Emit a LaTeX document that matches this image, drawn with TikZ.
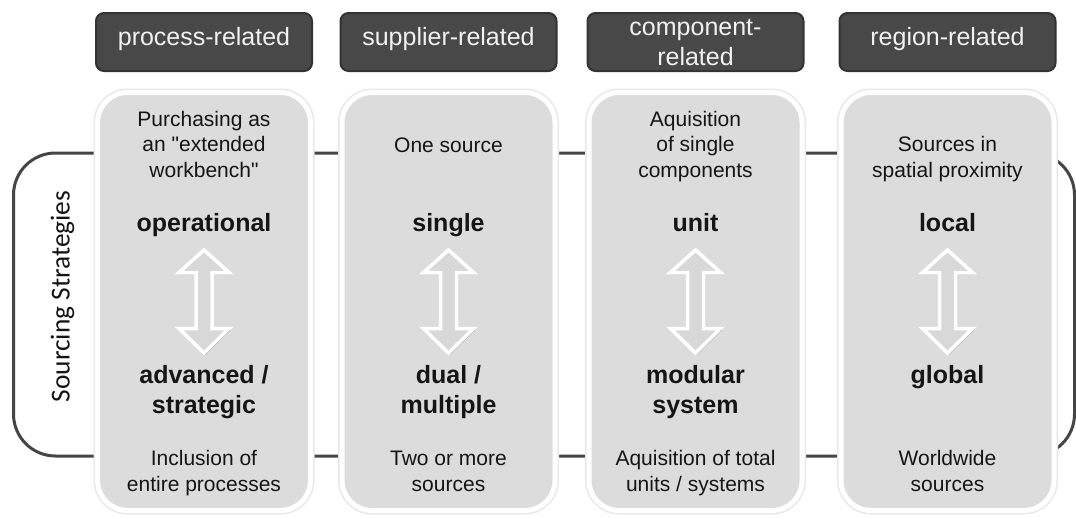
\documentclass[tikz,border=0pt]{standalone}
\usepackage{fontspec}
\setmainfont{Liberation Sans}[Ligatures=TeXOff]
\newfontfamily\sidefont{Carlito}
\usetikzlibrary{shadows}

\definecolor{headfill}{HTML}{484848}
\definecolor{headedge}{HTML}{333333}
\definecolor{headtextcol}{HTML}{F2F2F2}
\definecolor{panelfill}{HTML}{DCDCDC}
\definecolor{frameline}{HTML}{454545}
\definecolor{inktext}{HTML}{151515}
\definecolor{arrowfill}{HTML}{D8D8D8}

\tikzset{
  frame/.style={draw=frameline, line width=3pt, rounded corners=42pt},
  headerbox/.style={draw=headedge, line width=2pt, fill=headfill,
    rounded corners=8pt, minimum width=216pt, minimum height=58pt, inner sep=0pt},
  headtext/.style={anchor=base, text=headtextcol, align=center,
    font=\fontsize{25}{30}\selectfont},
  panel/.style={preaction={draw=black!9, line width=8pt, rounded corners=30pt},
    draw=white, line width=5pt, fill=panelfill, rounded corners=30pt,
    minimum width=213pt, minimum height=418pt, inner sep=0pt},
  body/.style={anchor=base, text=inktext, align=center,
    font=\fontsize{21}{25.5}\selectfont},
  strong/.style={anchor=base, text=inktext, align=center,
    font=\bfseries\fontsize{25}{30}\selectfont},
  arrowbody/.style={draw=white, line width=3.5pt, line join=miter, fill=arrowfill,
    drop shadow={shadow xshift=1.5pt, shadow yshift=-1.5pt, opacity=0.3, fill=black}},
  dblarrow/.pic={
    \path[arrowbody] (0,-51.5) -- (25,-29) -- (8,-29) -- (8,27) -- (25,27)
      -- (0,51.5) -- (-25,27) -- (-8,27) -- (-8,-29) -- (-25,-29) -- cycle;
  },
}

\begin{document}
\begin{tikzpicture}[x=1pt, y=-1pt]
\useasboundingbox (0,0) rectangle (1076,517);

% bracket framing the four strategy columns
\draw[frame] (13.5,153) rectangle (1074.5,456);

% side title
\node[rotate=90, anchor=base, text=inktext, font=\sidefont\fontsize{27.4}{30}\selectfont]
  (side) at (69.5,296.5) {Sourcing Strategies};

% headers, panels and the double arrows
\foreach \i/\x in {1/204,2/448.5,3/695.5,4/947.5} {
  \node[headerbox] (h\i) at (\x,42) {};
  \node[panel] (p\i) at (\x,301.5) {};
  \pic at (p\i.center) {dblarrow};
}

% header captions (anchored at the baseline of their last line)
\node[headtext] (h1t) at (h1.center |- 0,45) {process-related};
\node[headtext] (h2t) at (h2.center |- 0,45) {supplier-related};
\node[headtext] (h3t) at (h3.center |- 0,65) {component-\\related};
\node[headtext] (h4t) at (h4.center |- 0,45) {region-related};

% upper descriptions
\node[body] (d1a) at (p1.center |- 0,177) {Purchasing as\\an "extended\\workbench"};
\node[body] (d2a) at (p2.center |- 0,152) {One source};
\node[body] (d3a) at (p3.center |- 0,177) {Aquisition\\of single\\components};
\node[body] (d4a) at (p4.center |- 0,177) {Sources in\\spatial proximity};

% upper poles
\node[strong] (s1a) at (p1.center |- 0,231) {operational};
\node[strong] (s2a) at (p2.center |- 0,231) {single};
\node[strong] (s3a) at (p3.center |- 0,231) {unit};
\node[strong] (s4a) at (p4.center |- 0,231) {local};

% lower poles
\node[strong] (s1b) at (p1.center |- 0,413) {advanced /\\strategic};
\node[strong] (s2b) at (p2.center |- 0,413) {dual /\\multiple};
\node[strong] (s3b) at (p3.center |- 0,413) {modular\\system};
\node[strong] (s4b) at (p4.center |- 0,383) {global};

% lower descriptions
\node[body] (d1b) at (p1.center |- 0,491) {Inclusion of\\entire processes};
\node[body] (d2b) at (p2.center |- 0,491) {Two or more\\sources};
\node[body] (d3b) at (p3.center |- 0,491) {Aquisition of total\\units / systems};
\node[body] (d4b) at (p4.center |- 0,491) {Worldwide\\sources};
\end{tikzpicture}
\end{document}
